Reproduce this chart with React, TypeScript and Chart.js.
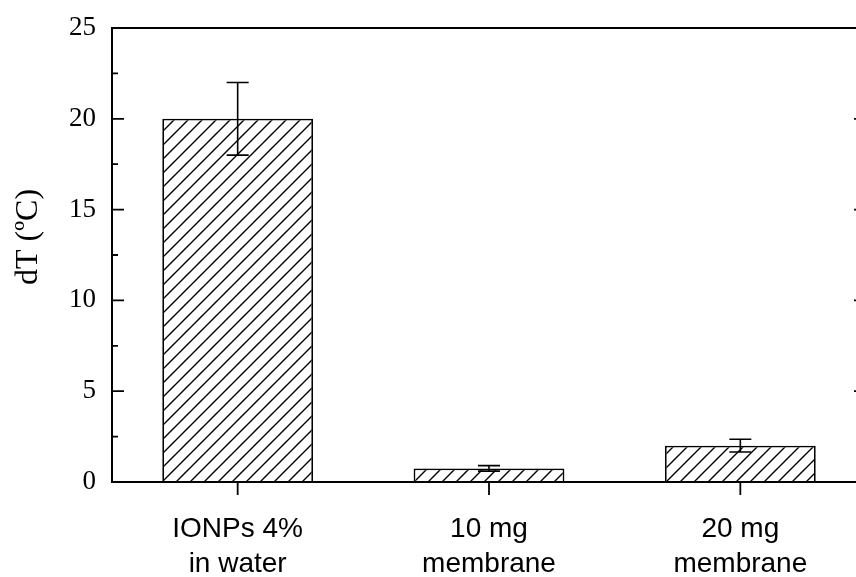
import React, { useEffect, useRef } from 'react';
import { Chart, registerables } from 'chart.js';
Chart.register(...registerables);

const categories: string[][] = [['IONPs 4%', 'in water'], ['10 mg', 'membrane'], ['20 mg', 'membrane']];
const values: number[] = [20, 0.75, 2.0];
const errors: number[] = [2, 0.15, 0.35];
const yMin = 0;
const yMax = 25;
const yStep = 5;
const yTitle = 'dT (ºC)';

function makeHatch(ctx: CanvasRenderingContext2D): CanvasPattern | string {
  const size = 14;
  const c = document.createElement('canvas');
  c.width = size;
  c.height = size;
  const g = c.getContext('2d')!;
  g.fillStyle = '#fff';
  g.fillRect(0, 0, size, size);
  g.strokeStyle = '#000';
  g.lineWidth = 1.4;
  g.beginPath();
  g.moveTo(-2, size + 2);
  g.lineTo(size + 2, -2);
  g.moveTo(-2, 2);
  g.lineTo(2, -2);
  g.moveTo(size - 2, size + 2);
  g.lineTo(size + 2, size - 2);
  g.stroke();
  return ctx.createPattern(c, 'repeat') || '#fff';
}

const errorBarPlugin = {
  id: 'errorBars',
  afterDatasetsDraw(chart: any) {
    const ctx = chart.ctx;
    const y = chart.scales.y;
    const meta = chart.getDatasetMeta(0);
    ctx.save();
    ctx.strokeStyle = '#000';
    ctx.lineWidth = 1.6;
    meta.data.forEach((el: any, i: number) => {
      const top = y.getPixelForValue(values[i] + errors[i]);
      const bot = y.getPixelForValue(values[i] - errors[i]);
      const half = 11;
      ctx.beginPath();
      ctx.moveTo(el.x, top);
      ctx.lineTo(el.x, bot);
      ctx.moveTo(el.x - half, top);
      ctx.lineTo(el.x + half, top);
      ctx.moveTo(el.x - half, bot);
      ctx.lineTo(el.x + half, bot);
      ctx.stroke();
    });
    ctx.restore();
  },
};

const framePlugin = {
  id: 'frame',
  afterDraw(chart: any) {
    const ctx = chart.ctx;
    const { left, right, top, bottom } = chart.chartArea;
    const y = chart.scales.y;
    const x = chart.scales.x;
    ctx.save();
    ctx.strokeStyle = '#000';
    ctx.lineWidth = 2;
    ctx.beginPath();
    ctx.rect(left, top, right - left, bottom - top);
    ctx.stroke();
    ctx.lineWidth = 1.8;
    ctx.beginPath();
    y.ticks.forEach((t: any) => {
      const py = y.getPixelForValue(t.value);
      ctx.moveTo(left, py);
      ctx.lineTo(left + 12, py);
      ctx.moveTo(right, py);
      ctx.lineTo(right - 12, py);
      const mv = t.value + yStep / 2;
      if (mv < yMax) {
        const pm = y.getPixelForValue(mv);
        ctx.moveTo(left, pm);
        ctx.lineTo(left + 6, pm);
        ctx.moveTo(right, pm);
        ctx.lineTo(right - 6, pm);
      }
    });
    categories.forEach((_, i) => {
      const px = x.getPixelForValue(i);
      ctx.moveTo(px, bottom);
      ctx.lineTo(px, bottom + 13);
    });
    ctx.stroke();
    // y-axis title
    ctx.translate(29, 237);
    ctx.rotate(-Math.PI / 2);
    ctx.fillStyle = '#000';
    ctx.font = '32px "Liberation Serif", "Times New Roman", serif';
    ctx.textAlign = 'center';
    ctx.textBaseline = 'middle';
    ctx.fillText(yTitle, 0, 0);
    ctx.restore();
  },
};

export default function App() {
  const ref = useRef<HTMLCanvasElement>(null);
  useEffect(() => {
    const canvas = ref.current!;
    const ctx = canvas.getContext('2d')!;
    const hatch = makeHatch(ctx);
    const chart = new Chart(canvas, {
      type: 'bar',
      data: {
        labels: categories as any,
        datasets: [
          {
            data: values,
            backgroundColor: hatch as any,
            borderColor: '#000',
            borderWidth: 1.8,
            barPercentage: 0.6,
            categoryPercentage: 1,
          },
        ],
      },
      options: {
        responsive: false,
        animation: false,
        devicePixelRatio: 1,
        layout: { padding: { left: 0, top: 28, right: 14, bottom: 0 } },
        plugins: { legend: { display: false }, tooltip: { enabled: false } },
        scales: {
          x: {
            grid: { display: false, drawTicks: false },
            border: { display: false },
            ticks: {
              color: '#000',
              autoSkip: false,
              maxRotation: 0,
              padding: 30,
              font: { family: '"Liberation Sans", Arial, sans-serif', size: 28, lineHeight: 1.25 },
            },
            afterFit(s: any) {
              s.height = 95;
              s.paddingLeft = 0;
              s.paddingRight = 0;
            },
          },
          y: {
            min: yMin,
            max: yMax,
            grid: { display: false, drawTicks: false },
            border: { display: false },
            ticks: {
              stepSize: yStep,
              color: '#000',
              padding: 16,
              font: { family: '"Liberation Serif", "Times New Roman", serif', size: 27 },
            },
            afterFit(s: any) {
              s.width = 112;
              s.paddingTop = 0;
              s.paddingBottom = 0;
            },
          },
        },
      },
      plugins: [errorBarPlugin, framePlugin],
    });
    return () => chart.destroy();
  }, []);
  return (
    <div style={{ position: 'fixed', left: 0, top: 0, width: 856, height: 577, overflow: 'hidden', background: '#fff' }}>
      <canvas ref={ref} width={880} height={577} style={{ display: 'block', width: 880, height: 577 }} />
    </div>
  );
}
